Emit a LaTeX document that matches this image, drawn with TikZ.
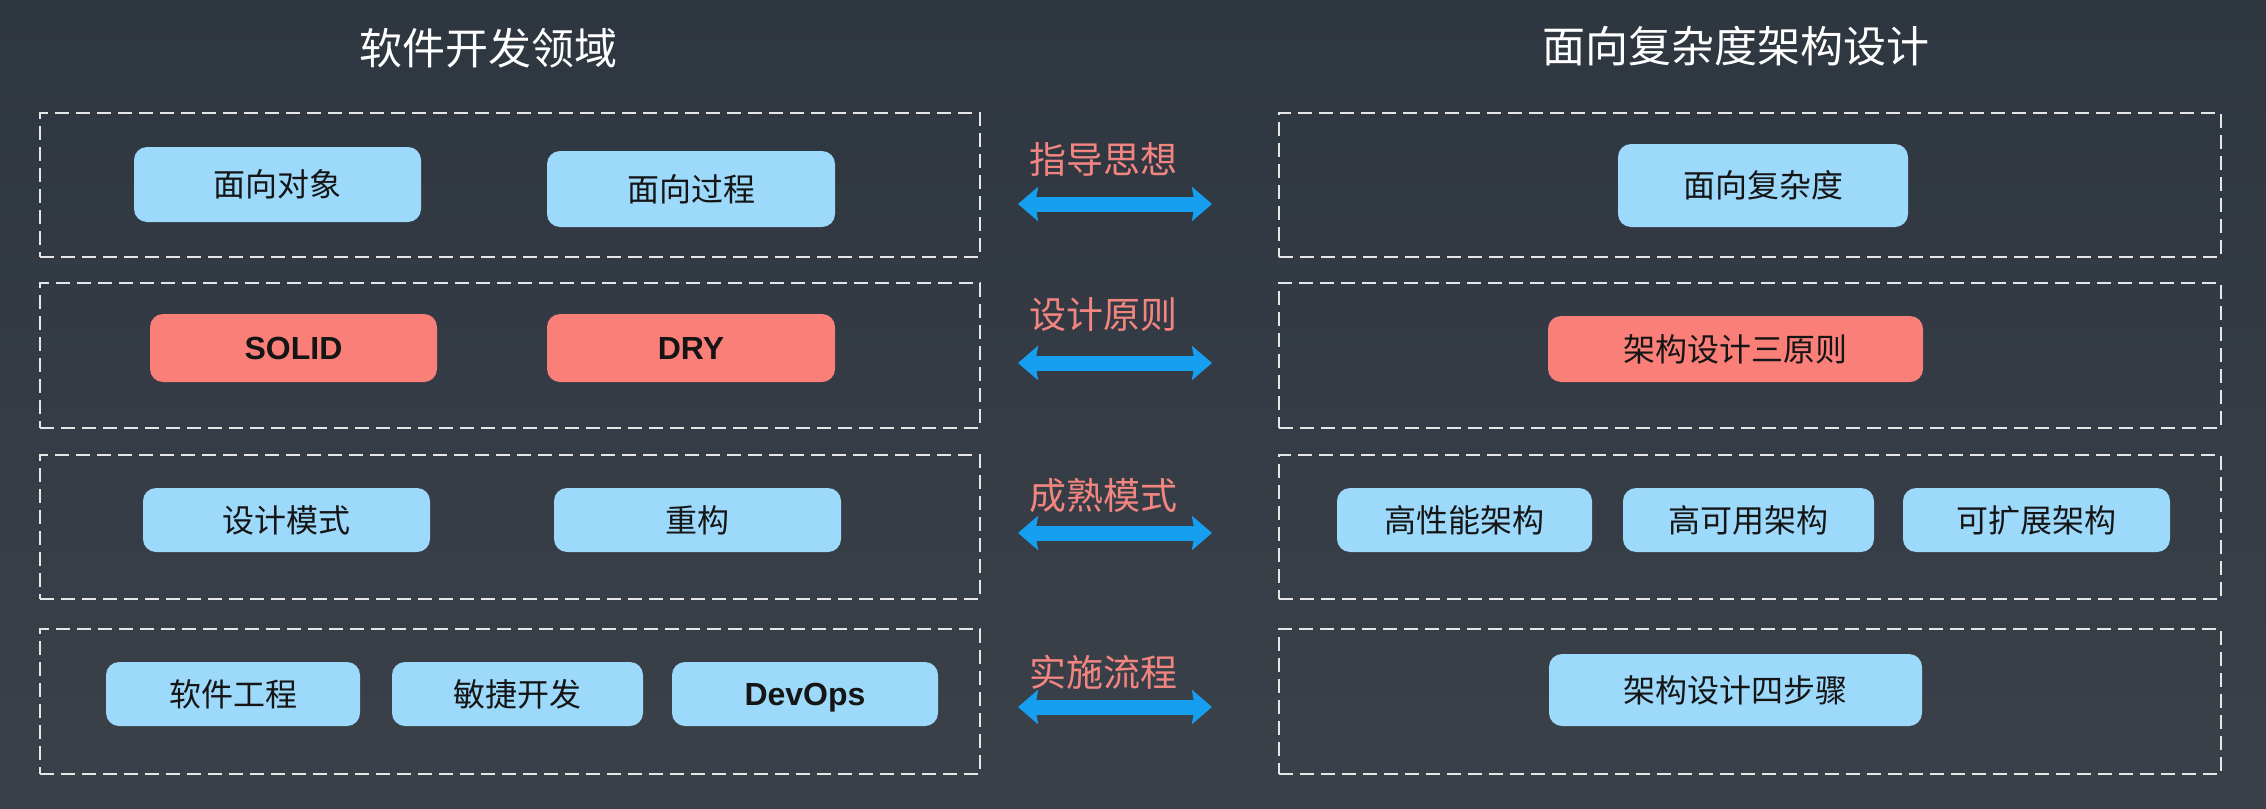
\documentclass[tikz,border=0pt]{standalone}
\usepackage{fontspec}
\setmainfont{Noto Sans CJK SC}
\newfontfamily\latfont{Liberation Sans}
\usetikzlibrary{arrows.meta}
\definecolor{bgtop}{HTML}{2E3640}
\definecolor{bgbot}{HTML}{3B4149}
\definecolor{dashc}{HTML}{E6E6E6}
\definecolor{bluebox}{HTML}{9DD9FB}
\definecolor{redbox}{HTML}{FA7F79}
\definecolor{labelc}{HTML}{F28580}
\definecolor{arrowc}{HTML}{169FEF}
\definecolor{boxtext}{HTML}{151515}
\begin{document}
\begin{tikzpicture}[x=1pt,y=-1pt,
  dbox/.style={draw=dashc, line width=2.8pt, dash pattern=on 14pt off 7pt, inner sep=0pt},
  bbox/.style={fill=bluebox, rounded corners=13pt, inner sep=0pt, text=boxtext, font=\fontsize{32}{38}\selectfont},
  rbox/.style={bbox, fill=redbox},
  lat/.style={font=\latfont\bfseries\fontsize{32}{38}\selectfont, text height=23pt, text depth=0pt},
  ttl/.style={text=white, font=\fontsize{43}{50}\selectfont},
  lbl/.style={text=labelc, font=\fontsize{37}{44}\selectfont},
  dbl/.style={draw=arrowc, line width=15pt, {Stealth[length=20pt,width=34pt,inset=3pt]}-{Stealth[length=20pt,width=34pt,inset=3pt]}}
]
\shade[top color=bgtop, bottom color=bgbot] (0,0) rectangle (2266,808);
\useasboundingbox (0,0) rectangle (2266,808);

% titles
\node[ttl] (t1) at (488,48) {软件开发领域};
\node[ttl] (t2) at (1736,46) {面向复杂度架构设计};

% dashed group boxes
\node[dbox, minimum width=940pt, minimum height=144pt] (L1) at (510,185) {};
\node[dbox, minimum width=940pt, minimum height=145pt] (L2) at (510,355.5) {};
\node[dbox, minimum width=940pt, minimum height=144pt] (L3) at (510,527) {};
\node[dbox, minimum width=940pt, minimum height=145pt] (L4) at (510,701.5) {};
\node[dbox, minimum width=942pt, minimum height=144pt] (R1) at (1750,185) {};
\node[dbox, minimum width=942pt, minimum height=145pt] (R2) at (1750,355.5) {};
\node[dbox, minimum width=942pt, minimum height=144pt] (R3) at (1750,527) {};
\node[dbox, minimum width=942pt, minimum height=145pt] (R4) at (1750,701.5) {};

% left items
\node[bbox, minimum width=287pt, minimum height=75pt] (oo) at (277.5,184.5) {面向对象};
\node[bbox, minimum width=288pt, minimum height=76pt] (po) at (691,189) {面向过程};
\node[rbox, lat, minimum width=287pt, minimum height=68pt] (solid) at (293.5,348) {SOLID};
\node[rbox, lat, minimum width=288pt, minimum height=68pt] (dry) at (691,348) {DRY};
\node[bbox, minimum width=287pt, minimum height=64pt] (dp) at (286.5,520) {设计模式};
\node[bbox, minimum width=287pt, minimum height=64pt] (rf) at (697.5,520) {重构};
\node[bbox, minimum width=254pt, minimum height=64pt] (se) at (233,694) {软件工程};
\node[bbox, minimum width=251pt, minimum height=64pt] (ag) at (517.5,694) {敏捷开发};
\node[bbox, lat, minimum width=266pt, minimum height=64pt] (dev) at (805,694) {DevOps};

% right items
\node[bbox, minimum width=290pt, minimum height=83pt] (cx) at (1763,185.5) {面向复杂度};
\node[rbox, minimum width=375pt, minimum height=66pt] (p3) at (1735.5,349) {架构设计三原则};
\node[bbox, minimum width=255pt, minimum height=64pt] (hp) at (1464.5,520) {高性能架构};
\node[bbox, minimum width=251pt, minimum height=64pt] (ha) at (1748.5,520) {高可用架构};
\node[bbox, minimum width=267pt, minimum height=64pt] (sc) at (2036.5,520) {可扩展架构};
\node[bbox, minimum width=373pt, minimum height=72pt] (s4) at (1735.5,690) {架构设计四步骤};

% middle labels
\node[lbl] (m1) at (1103,159) {指导思想};
\node[lbl] (m2) at (1103,315) {设计原则};
\node[lbl] (m3) at (1103,495) {成熟模式};
\node[lbl] (m4) at (1103,672) {实施流程};

% arrow ends
\coordinate (a1l) at (1018,204); \coordinate (a1r) at (1212,204);
\coordinate (a2l) at (1018,363); \coordinate (a2r) at (1212,363);
\coordinate (a3l) at (1018,533); \coordinate (a3r) at (1212,533);
\coordinate (a4l) at (1018,707); \coordinate (a4r) at (1212,707);
\draw[dbl] (a1l) -- (a1r);
\draw[dbl] (a2l) -- (a2r);
\draw[dbl] (a3l) -- (a3r);
\draw[dbl] (a4l) -- (a4r);
\end{tikzpicture}
\end{document}
